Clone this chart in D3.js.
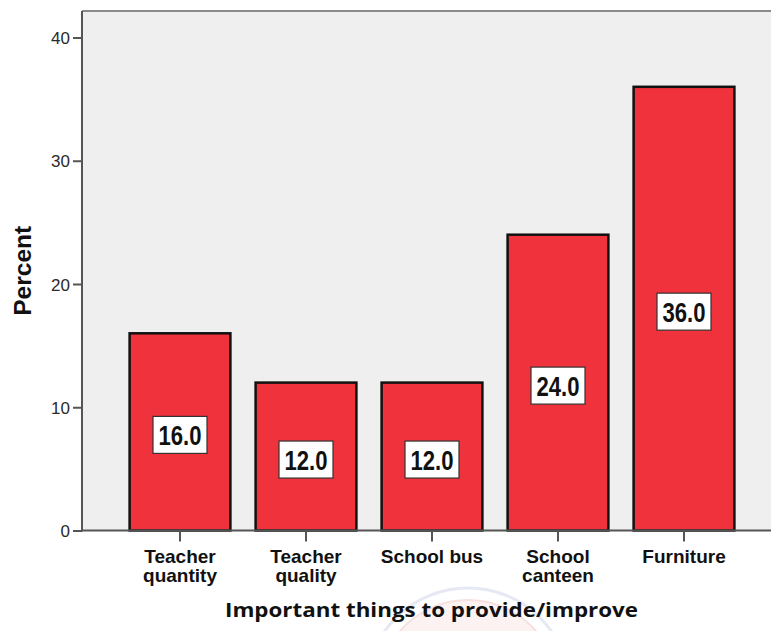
<!DOCTYPE html>
<html>
<head>
<meta charset="utf-8">
<script src="https://cdn.jsdelivr.net/npm/d3@7"></script>
<style>
  html, body { margin: 0; padding: 0; background: #fff; }
  svg { display: block; }
</style>
</head>
<body>
<svg id="chart" width="771" height="631"></svg>
<script>
// Categories (two-line labels) and their percentages
const categories = ["Teacher quantity", "Teacher quality", "School bus", "School canteen", "Furniture"];
const categoryLines = [["Teacher", "quantity"], ["Teacher", "quality"], ["School bus"], ["School", "canteen"], ["Furniture"]];
const percents = [16.0, 12.0, 12.0, 24.0, 36.0];
const yTicks = [0, 10, 20, 30, 40];
const yTitle = "Percent";
const xTitle = "Important things to provide/improve";

const svg = d3.select("#chart");
const W = 771, H = 631;
const plot = { left: 82, top: 11, right: 771, bottom: 530.5 };

const x = d3.scaleBand()
  .domain(categories)
  .range([117, 747])
  .paddingInner(0.2)
  .paddingOuter(0.1);

const y = d3.scaleLinear()
  .domain([0, 40])
  .range([plot.bottom, 37.5]);

// faint watermark seal behind the axis title
const wm = svg.append("g").attr("opacity", 0.45);
wm.append("circle").attr("cx", 468).attr("cy", 690).attr("r", 102)
  .attr("fill", "none").attr("stroke", "#c9cfe8").attr("stroke-width", 3);
wm.append("circle").attr("cx", 468).attr("cy", 690).attr("r", 90)
  .attr("fill", "#fbe3e3").attr("stroke", "#f2bcbc").attr("stroke-width", 2);

// plot background
svg.append("rect")
  .attr("x", plot.left).attr("y", plot.top)
  .attr("width", plot.right - plot.left + 5)
  .attr("height", plot.bottom - plot.top)
  .attr("fill", "#efefef");

// top frame line
svg.append("line")
  .attr("x1", plot.left).attr("x2", W + 2)
  .attr("y1", plot.top).attr("y2", plot.top)
  .attr("stroke", "#8a8a8a").attr("stroke-width", 2);

// bars
svg.append("g").selectAll("rect")
  .data(categories)
  .join("rect")
  .attr("x", d => x(d))
  .attr("y", (d, i) => y(percents[i]))
  .attr("width", x.bandwidth())
  .attr("height", (d, i) => y(0) - y(percents[i]))
  .attr("fill", "#ef323b")
  .attr("stroke", "#111")
  .attr("stroke-width", 2.5);

// y axis
const yAxis = svg.append("g")
  .attr("transform", `translate(${plot.left},0)`)
  .call(d3.axisLeft(y).tickValues(yTicks).tickSize(9).tickPadding(3).tickSizeOuter(0));
yAxis.select(".domain").remove();
yAxis.append("line")
  .attr("x1", 0).attr("x2", 0)
  .attr("y1", plot.top).attr("y2", plot.bottom + 1)
  .attr("stroke", "#555").attr("stroke-width", 2);
yAxis.selectAll(".tick line").attr("stroke", "#555").attr("stroke-width", 2);
yAxis.selectAll(".tick text")
  .attr("font-family", "Liberation Sans, Arial, sans-serif")
  .attr("font-size", 17)
  .attr("fill", "#2a2a2a")
  .attr("dy", "0.36em");

// x axis
const xAxis = svg.append("g")
  .attr("transform", `translate(0,${plot.bottom})`)
  .call(d3.axisBottom(x).tickSize(11).tickSizeOuter(0).tickFormat(""));
xAxis.select(".domain").remove();
xAxis.append("line")
  .attr("x1", plot.left - 1).attr("x2", W + 2)
  .attr("y1", 0).attr("y2", 0)
  .attr("stroke", "#555").attr("stroke-width", 2);
xAxis.selectAll(".tick line").attr("stroke", "#555").attr("stroke-width", 2);

// category labels, one text element per line
const catGroups = svg.append("g")
  .selectAll("g")
  .data(categories)
  .join("g")
  .attr("transform", d => `translate(${x(d) + x.bandwidth() / 2},0)`);
catGroups.each(function(d, i) {
  d3.select(this).selectAll("text")
    .data(categoryLines[i])
    .join("text")
    .attr("x", 0)
    .attr("y", (t, j) => 562.5 + j * 19.5)
    .attr("text-anchor", "middle")
    .attr("font-family", "Liberation Sans, Arial, sans-serif")
    .attr("font-weight", "bold")
    .attr("font-size", 19)
    .attr("fill", "#111")
    .text(t => t);
});

// value labels in white boxes
const vl = svg.append("g").selectAll("g")
  .data(categories)
  .join("g")
  .attr("transform", (d, i) => `translate(${x(d) + x.bandwidth() / 2},${(y(percents[i]) + y(0)) / 2 + 3})`);
vl.append("rect")
  .attr("x", -27).attr("y", -18.5)
  .attr("width", 54).attr("height", 37)
  .attr("fill", "#fff")
  .attr("stroke", "#333")
  .attr("stroke-width", 1.2);
vl.append("text")
  .attr("text-anchor", "middle")
  .attr("y", 10)
  .attr("font-family", "Liberation Sans, Arial, sans-serif")
  .attr("font-weight", "bold")
  .attr("font-size", 27)
  .attr("textLength", 43)
  .attr("lengthAdjust", "spacingAndGlyphs")
  .attr("fill", "#111")
  .text((d, i) => percents[i].toFixed(1));

// axis titles
svg.append("text")
  .attr("transform", `translate(31,${(plot.top + plot.bottom) / 2}) rotate(-90)`)
  .attr("text-anchor", "middle")
  .attr("font-family", "Liberation Sans, Arial, sans-serif")
  .attr("font-weight", "bold")
  .attr("font-size", 23)
  .attr("textLength", 90)
  .attr("lengthAdjust", "spacingAndGlyphs")
  .attr("fill", "#111")
  .text(yTitle);

svg.append("text")
  .attr("x", 431.5)
  .attr("y", 617)
  .attr("text-anchor", "middle")
  .attr("font-family", "Open Sans, sans-serif")
  .attr("font-weight", "bold")
  .attr("font-size", 20)
  .attr("textLength", 413)
  .attr("lengthAdjust", "spacingAndGlyphs")
  .attr("fill", "#111")
  .text(xTitle);
</script>
</body>
</html>
